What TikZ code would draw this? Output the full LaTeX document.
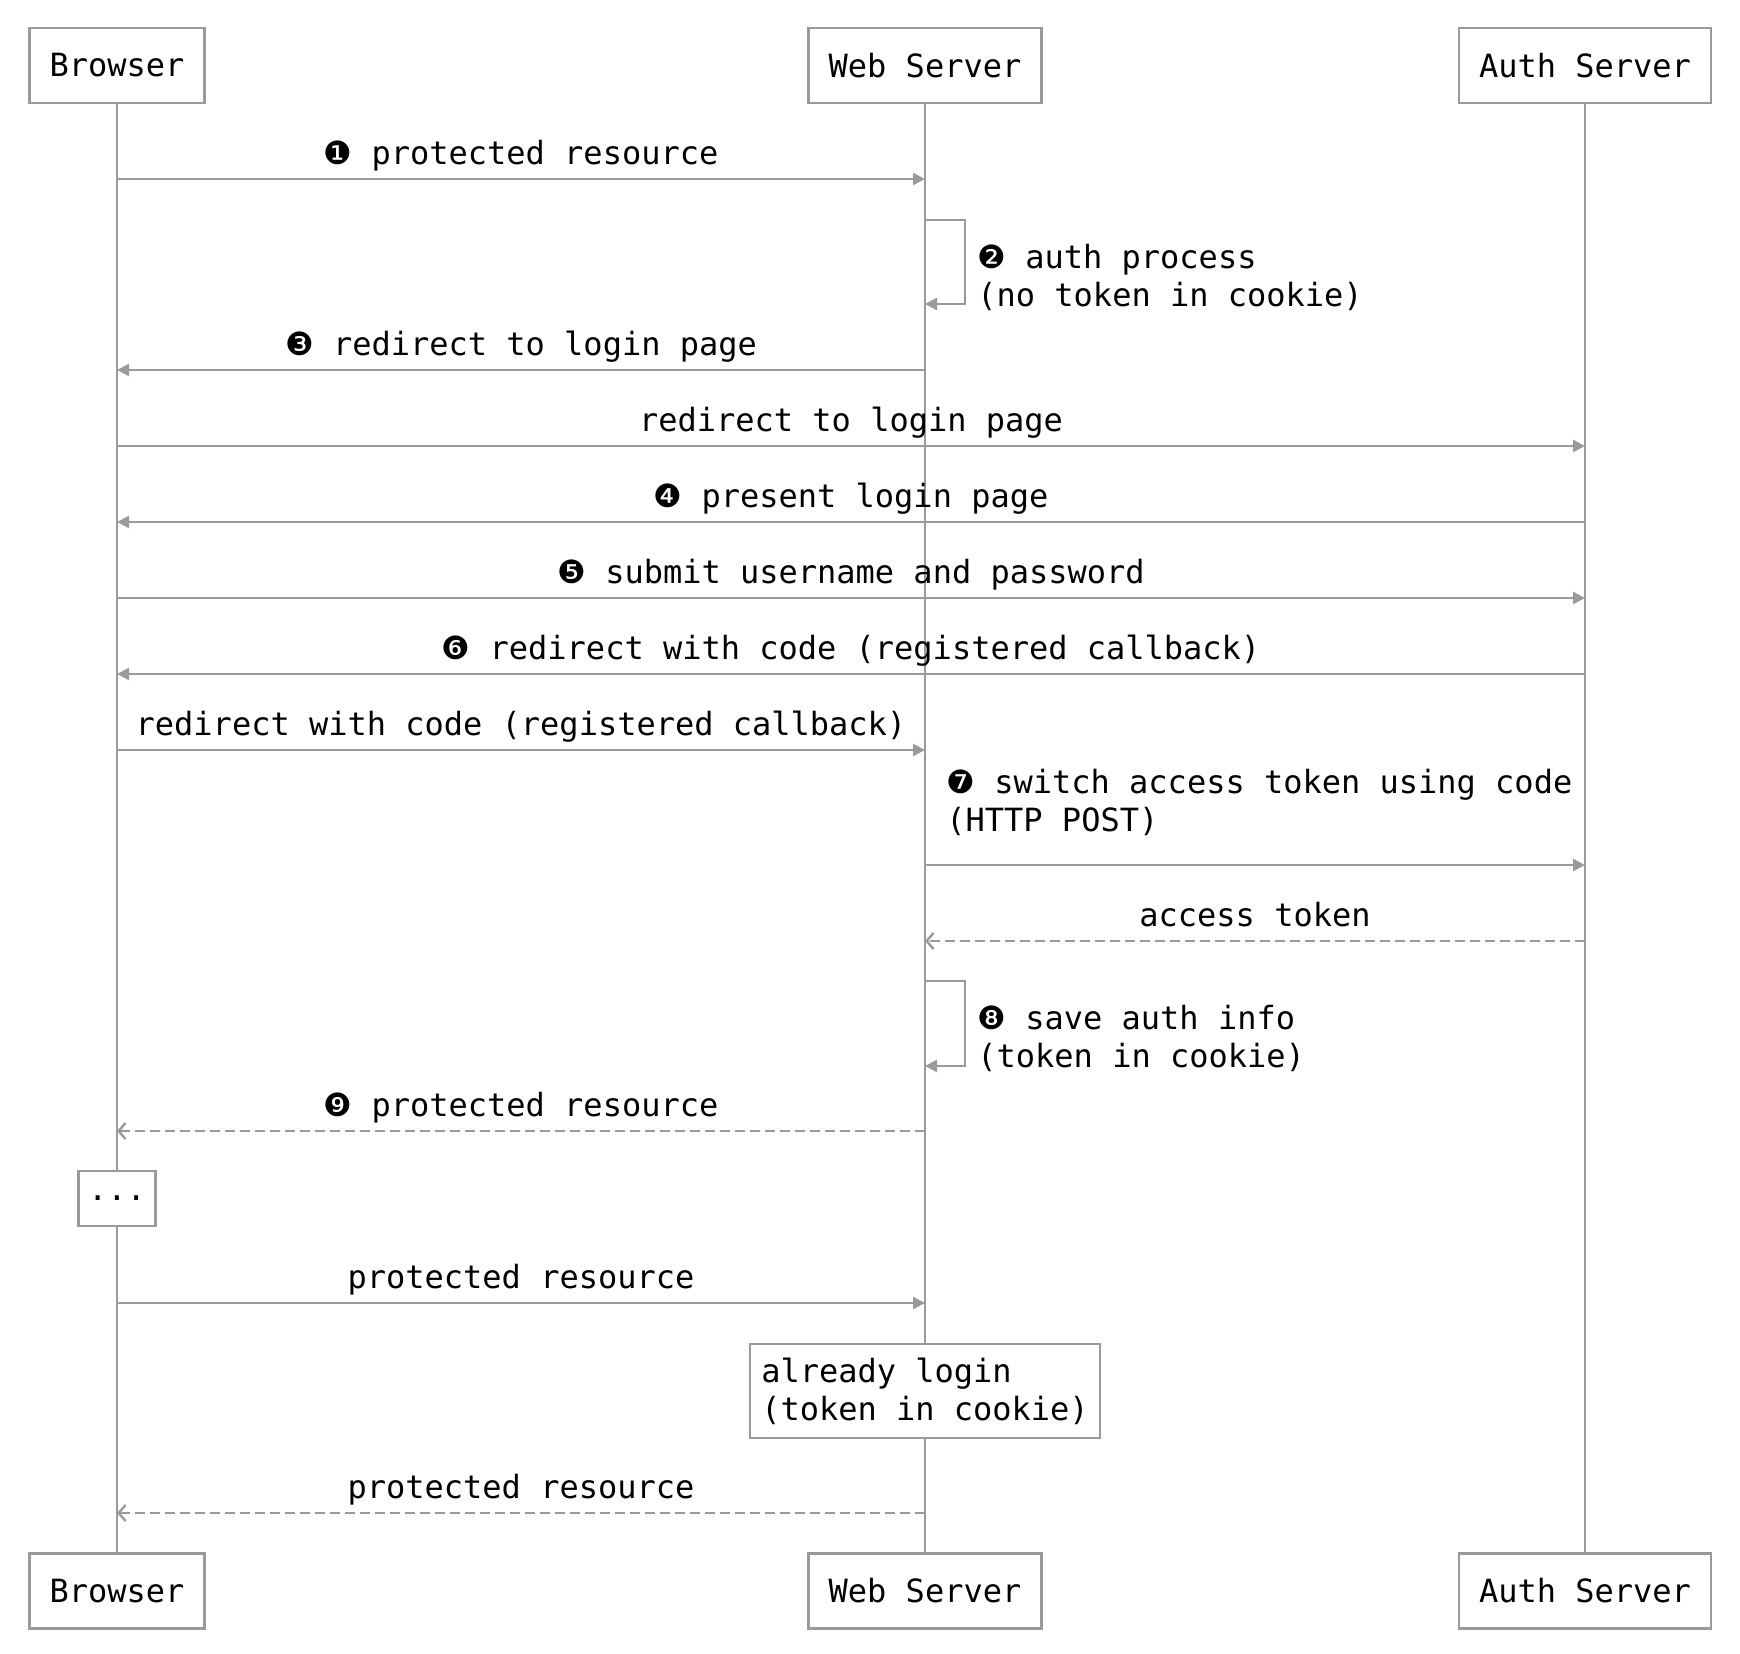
\documentclass[tikz,border=0pt]{standalone}
\usepackage{fontspec}
\setmonofont{DejaVu Sans Mono}
\newfontfamily\dingfont{DejaVu Sans}
\usetikzlibrary{positioning,calc,arrows.meta}
\definecolor{linegray}{HTML}{9A9A9A}
\newcommand*{\seqfont}{\fontsize{16}{18.9}\selectfont\ttfamily}
\newcommand*{\stepno}[1]{{\dingfont#1}}

\begin{document}
\begin{tikzpicture}[x=0.5pt,y=-0.5pt,
  actor/.style={draw=linegray,line width=1.2pt,minimum height=37.5pt,
                inner xsep=10pt,font=\seqfont},
  life/.style={draw=linegray,line width=1.1pt},
  msg/.style={draw=linegray,line width=1.2pt,
              -{Triangle[length=6pt,width=6pt]}},
  reply/.style={draw=linegray,line width=1.2pt,dash pattern=on 5pt off 2.5pt,
                -{Straight Barb[length=3.5pt,width=8pt]}},
  lbl/.style={anchor=base,yshift=7.5pt,inner sep=0pt,font=\seqfont},
  note/.style={anchor=base west,inner sep=0pt,align=left,font=\seqfont},
  box/.style={draw=linegray,line width=1.2pt,fill=white,font=\seqfont}]
\useasboundingbox (0,0) rectangle (1740,1654);
% Participants, top and bottom
\node[actor] (brT) at (117,65.5) {Browser};
\node[actor] (wsT) at (925,65.5) {Web Server};
\node[actor] (asT) at (1585,65.5) {Auth Server};
\node[actor] (brB) at (117,1591) {Browser};
\node[actor] (wsB) at (925,1591) {Web Server};
\node[actor] (asB) at (1585,1591) {Auth Server};
% Lifelines
\draw[life] (brT) -- (brB);
\draw[life] (wsT) -- (wsB);
\draw[life] (asT) -- (asB);
% Step 1
\coordinate (b1) at (117,179);
\coordinate (w1) at (925,179);
\draw[msg] (b1) -- node[lbl] {\stepno{❶} protected resource} (w1);
% Step 2, self call
\coordinate (w2a) at (925,220);
\coordinate (w2b) at (925,304);
\draw[msg] (w2a) -- ++(40,0) |- (w2b);
\node[note] (n2) at (977,306) {\stepno{❷} auth process\\(no token in cookie)};
% Step 3
\coordinate (w3) at (925,370);
\coordinate (b3) at (117,370);
\draw[msg] (w3) -- node[lbl] {\stepno{❸} redirect to login page} (b3);
\coordinate (b3r) at (117,446);
\coordinate (a3r) at (1585,446);
\draw[msg] (b3r) -- node[lbl] {redirect to login page} (a3r);
% Steps 4 to 6
\coordinate (a4) at (1585,522);
\coordinate (b4) at (117,522);
\draw[msg] (a4) -- node[lbl] {\stepno{❹} present login page} (b4);
\coordinate (b5) at (117,598);
\coordinate (a5) at (1585,598);
\draw[msg] (b5) -- node[lbl] {\stepno{❺} submit username and password} (a5);
\coordinate (a6) at (1585,674);
\coordinate (b6) at (117,674);
\draw[msg] (a6) -- node[lbl] {\stepno{❻} redirect with code (registered callback)} (b6);
\coordinate (b6r) at (117,750);
\coordinate (w6r) at (925,750);
\draw[msg] (b6r) -- node[lbl] {redirect with code (registered callback)} (w6r);
% Step 7
\coordinate (w7) at (925,865);
\coordinate (a7) at (1585,865);
\draw[msg] (w7) -- (a7);
\node[note] (n7) at (946,831) {\stepno{❼} switch access token using code\\(HTTP POST)};
\coordinate (a7r) at (1585,941);
\coordinate (w7r) at (925,941);
\draw[reply] (a7r) -- node[lbl] {access token} (w7r);
% Step 8, self call
\coordinate (w8a) at (925,981);
\coordinate (w8b) at (925,1066);
\draw[msg] (w8a) -- ++(40,0) |- (w8b);
\node[note] (n8) at (977,1067) {\stepno{❽} save auth info\\(token in cookie)};
% Step 9
\coordinate (w9) at (925,1131);
\coordinate (b9) at (117,1131);
\draw[reply] (w9) -- node[lbl] {\stepno{❾} protected resource} (b9);
% Later requests
\node[box,minimum width=38.5pt,minimum height=27.5pt,text depth=-2pt] (gap) at (117,1198.5) {...};
\coordinate (b10) at (117,1303);
\coordinate (w10) at (925,1303);
\draw[msg] (b10) -- node[lbl] {protected resource} (w10);
\node[box,align=left,inner xsep=5.5pt,minimum height=47pt] (done) at (925,1391)
  {already login\\(token in cookie)};
\coordinate (w11) at (925,1513);
\coordinate (b11) at (117,1513);
\draw[reply] (w11) -- node[lbl] {protected resource} (b11);
\end{tikzpicture}
\end{document}
